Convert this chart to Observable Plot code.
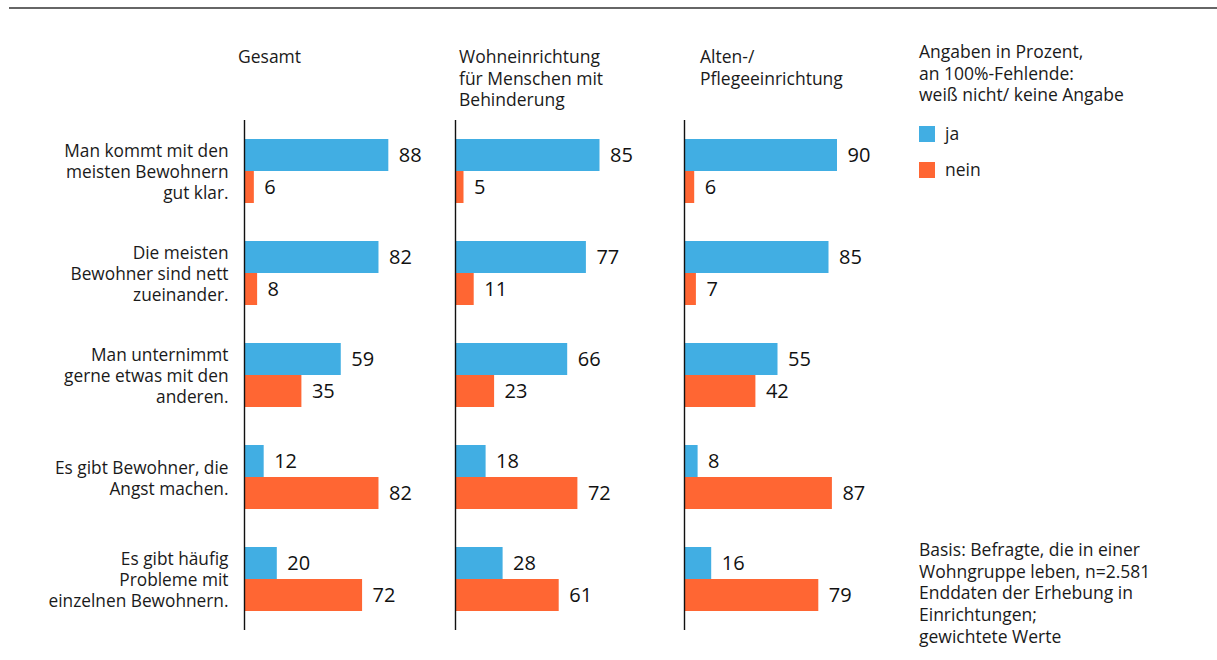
<!DOCTYPE html>
<html><head><meta charset="utf-8">
<script src="https://cdn.jsdelivr.net/npm/d3@7"></script>
<script src="https://cdn.jsdelivr.net/npm/@observablehq/plot@0.6"></script>
<style>
html,body{margin:0;padding:0;background:#fff}
body{font-family:"Open Sans",sans-serif;color:#1a1a1a}
#root{position:relative;width:1217px;height:660px;overflow:hidden}
.rule{position:absolute;left:9px;right:0;top:7px;border-top:2px solid #666}
.title{position:absolute;top:46px;font-size:17.5px;line-height:21.5px;white-space:pre}
.panel{position:absolute;top:0}
.panel svg{overflow:visible}
#legend{position:absolute;left:919px;top:41px;font-size:17.5px;line-height:21.5px}
#legend .head{white-space:pre;margin-bottom:10px}
#legend .item{display:flex;align-items:center;height:36px}
#legend .sw{width:16px;height:16px;margin-right:10px}
#note{position:absolute;left:919px;top:539px;font-size:17.5px;line-height:21.7px;white-space:pre}
</style>
</head><body>
<div id="root"><div class="rule"></div></div>
<script>
const categories = [
  "Man kommt mit den\nmeisten Bewohnern\ngut klar.",
  "Die meisten\nBewohner sind nett\nzueinander.",
  "Man unternimmt\ngerne etwas mit den\nanderen.",
  "Es gibt Bewohner, die\nAngst machen.",
  "Es gibt häufig\nProbleme mit\neinzelnen Bewohnern."
];
const panelTitles = ["Gesamt", "Wohneinrichtung\nfür Menschen mit\nBehinderung", "Alten-/\nPflegeeinrichtung"];
const series = ["ja", "nein"];
const seriesColors = ["#41aee3", "#ff6633"];
const jaGesamt = [88, 82, 59, 12, 20];
const neinGesamt = [6, 8, 35, 82, 72];
const jaWohn = [85, 77, 66, 18, 28];
const neinWohn = [5, 11, 23, 72, 61];
const jaAlten = [90, 85, 55, 8, 16];
const neinAlten = [6, 7, 42, 87, 79];
const legendHead = "Angaben in Prozent,\nan 100%-Fehlende:\nweiß nicht/ keine Angabe";
const noteText = "Basis: Befragte, die in einer\nWohngruppe leben, n=2.581\nEnddaten der Erhebung in\nEinrichtungen;\ngewichtete Werte";

const FONT = '"Open Sans", sans-serif';
const root = document.getElementById("root");

// layout (pixels): axis position, pixels per percent, title left
const layout = [
  {axis: 244, ppu: 1.64, titleLeft: 238},
  {axis: 455, ppu: 1.70, titleLeft: 459},
  {axis: 684, ppu: 1.70, titleLeft: 700}
];
const panelData = [[jaGesamt, neinGesamt], [jaWohn, neinWohn], [jaAlten, neinAlten]];

panelData.forEach(([ja, nein], i) => {
  const L = layout[i];
  const showLabels = i === 0;
  const ml = showLabels ? L.axis : 10;
  const mr = 50;
  const jaRows = categories.map((c, k) => ({cat: c, series: series[0], value: ja[k]}));
  const neinRows = categories.map((c, k) => ({cat: c, series: series[1], value: nein[k]}));
  const half = 32;
  const marks = [
    Plot.barX(jaRows, {x: "value", y: "cat", fill: "series", insetBottom: half}),
    Plot.barX(neinRows, {x: "value", y: "cat", fill: "series", insetTop: half}),
    Plot.ruleX([0], {stroke: "#111", strokeWidth: 1.4}),
    Plot.text(jaRows, {x: "value", y: "cat", text: d => String(d.value), dx: 10, dy: -half / 2, textAnchor: "start", fontSize: 20, fill: "#111"}),
    Plot.text(neinRows, {x: "value", y: "cat", text: d => String(d.value), dx: 10, dy: half / 2, textAnchor: "start", fontSize: 20, fill: "#111"})
  ];
  if (showLabels) {
    marks.push(Plot.text(categories, {x: () => 0, y: d => d, text: d => d, dx: -16, textAnchor: "end", fontSize: 17.3, lineHeight: 21 / 17.3, fill: "#1a1a1a"}));
  }
  const chart = Plot.plot({
    width: ml + 100 * L.ppu + mr,
    height: 660,
    marginLeft: ml, marginRight: mr, marginTop: 120, marginBottom: 30,
    x: {domain: [0, 100], axis: null},
    y: {domain: categories, axis: null, paddingInner: 38 / 102, paddingOuter: 19 / 102, round: false},
    color: {domain: series, range: seriesColors},
    style: {fontFamily: FONT, background: "transparent", overflow: "visible"},
    marks
  });
  const wrap = document.createElement("div");
  wrap.className = "panel";
  wrap.style.left = (L.axis - ml) + "px";
  wrap.appendChild(chart);
  root.appendChild(wrap);

  const t = document.createElement("div");
  t.className = "title";
  t.style.left = L.titleLeft + "px";
  t.textContent = panelTitles[i];
  root.appendChild(t);
});

// legend
const lg = document.createElement("div");
lg.id = "legend";
const head = document.createElement("div");
head.className = "head";
head.textContent = legendHead;
lg.appendChild(head);
series.forEach((s, k) => {
  const it = document.createElement("div");
  it.className = "item";
  const sw = document.createElement("div");
  sw.className = "sw";
  sw.style.background = seriesColors[k];
  const lab = document.createElement("span");
  lab.textContent = s;
  it.appendChild(sw); it.appendChild(lab);
  lg.appendChild(it);
});
root.appendChild(lg);

const note = document.createElement("div");
note.id = "note";
note.textContent = noteText;
root.appendChild(note);
</script>
</body></html>
